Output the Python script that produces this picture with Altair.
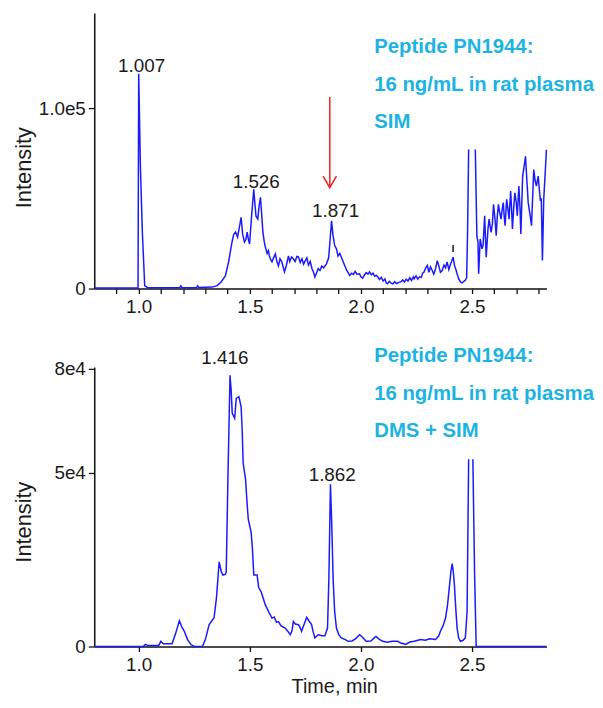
import altair as alt
import pandas as pd

# ---------------- data ----------------
# Top panel (SIM) chromatogram; None marks where the trace leaves the drawn area
top_time = [0.80, 0.90, 0.99, 0.997, 1.000, 1.0076, 1.0165, 1.027, 1.04, 1.15, 1.185, 1.19, 1.195,
            1.26, 1.265, 1.27, 1.33, 1.353, 1.37, 1.39, 1.405, 1.42, 1.428, 1.436, 1.445, 1.454,
            1.461, 1.468, 1.476, 1.482, 1.488, 1.494, 1.499, 1.508, 1.518, 1.523, 1.528, 1.536,
            1.542, 1.548, 1.553, 1.559, 1.565, 1.57, 1.578, 1.584, 1.588, 1.594, 1.6, 1.607, 1.615,
            1.622, 1.629, 1.636, 1.644, 1.65, 1.656, 1.664, 1.674, 1.68, 1.688, 1.696, 1.704, 1.712,
            1.719, 1.727, 1.735, 1.742, 1.75, 1.757, 1.764, 1.772, 1.78, 1.787, 1.793, 1.8, 1.808,
            1.816, 1.824, 1.832, 1.845, 1.855, 1.862, 1.868, 1.874, 1.882, 1.89, 1.897, 1.905,
            1.912, 1.92, 1.927, 1.935, 1.942, 1.95, 1.958, 1.966, 1.974, 1.982, 1.994, 2.0, 2.008,
            2.016, 2.024, 2.032, 2.039, 2.047, 2.055, 2.062, 2.07, 2.076, 2.084, 2.092, 2.1, 2.108,
            2.114, 2.12, 2.128, 2.136, 2.144, 2.152, 2.16, 2.168, 2.18, 2.188, 2.196, 2.204, 2.212,
            2.22, 2.228, 2.236, 2.24, 2.248, 2.256, 2.264, 2.272, 2.278, 2.284, 2.292, 2.299, 2.306,
            2.313, 2.321, 2.328, 2.336, 2.344, 2.352, 2.358, 2.366, 2.374, 2.381, 2.388, 2.396,
            2.402, 2.41, 2.415, 2.422, 2.428, 2.433, 2.44, 2.448, 2.455, 2.462, 2.47, 2.476, 2.48,
            2.485, None,
            2.515, 2.522, 2.527, 2.530, 2.537, 2.545, 2.550, 2.557, 2.564, 2.572, 2.577, 2.586,
            2.592, 2.597, 2.604, 2.609, 2.614, 2.619, 2.625, 2.631, 2.636, 2.641, 2.645, 2.649,
            2.656, 2.662, 2.667, 2.674, 2.678, 2.682, 2.688, 2.693, 2.699, 2.704, 2.711, 2.716,
            2.72, 2.728, 2.735, 2.741, 2.747, 2.753, 2.76, 2.768, 2.778, 2.784, 2.79, 2.798, 2.803,
            2.808, 2.812, 2.817, 2.823, 2.83, 2.835]
top_intensity = [300, 300, 300, 300, 119000, 67600, 31300, 1600, 500, 500, 600, 1500, 500,
                 500, 1500, 600, 800, 1600, 3500, 7000, 15000, 25800, 30000, 31300, 28500, 34600,
                 39500, 30000, 25800, 27000, 31300, 27000, 24700, 40000, 55000, 47000, 40100, 38500,
                 46000, 50500, 42000, 31300, 26000, 23000, 19500, 21000, 18100, 16000, 14800, 17000, 19200,
                 15000, 12600, 16500, 14800, 12000, 9300, 12500, 18100, 15000, 17500, 16500, 15000, 17800,
                 17600, 14500, 16500, 13500, 15500, 17000, 13000, 15000, 11000, 9000, 6400, 8500, 11000,
                 10000, 12500, 11500, 13700, 17000, 28000, 37500, 30000, 23800, 22000, 18000, 19500,
                 17400, 15000, 12800, 10500, 9000, 7300, 8500, 7800, 9500, 8000, 8200, 6500, 5800,
                 7500, 8800, 8000, 9200, 7600, 8500, 6800, 7300, 6400, 5000, 6200, 4200, 5300,
                 3200, 2700, 4000, 3000, 2600, 3800, 2800, 3300, 3700, 4800, 3600, 5200, 4200,
                 6000, 4500, 6500, 5500, 7000, 5200, 6500, 6200, 8500, 9200, 11500, 12800, 9000,
                 12000, 10000, 8000, 11000, 15500, 12000, 9000, 10000, 13000, 11500, 14700, 10500,
                 13000, 15500, 17400, 12500, 10500, 8200, 5500, 3700, 3200, 3800, 4600, 6000, 30000,
                 77000, None,
                 77000, 29300, 25800, 8200, 27500, 22000, 24000, 40300, 17400, 33000, 38500, 31100,
                 36000, 46700, 38000, 29300, 40000, 46700, 42000, 38500, 44000, 47600, 40000, 34800,
                 49500, 44000, 38500, 54000, 45000, 33000, 45000, 53100, 48000, 40300, 56800, 45000,
                 30200, 62300, 68000, 73300, 60000, 47600, 42000, 34800, 65900, 60000, 56800, 62300, 55000,
                 48500, 50000, 15600, 49500, 65000, 76900]

# Bottom panel (DMS + SIM) chromatogram
bot_time = [0.80, 1.02, 1.03, 1.04, 1.09, 1.10, 1.11, 1.15, 1.165, 1.183, 1.195, 1.205, 1.22, 1.235,
            1.25, 1.287, 1.30, 1.317, 1.33, 1.339, 1.35, 1.362, 1.372, 1.379, 1.39, 1.394, 1.402,
            1.411, 1.416, 1.421, 1.432, 1.439, 1.451, 1.461, 1.466, 1.47, 1.481, 1.487, 1.493,
            1.506, 1.512, 1.518, 1.533, 1.54, 1.551, 1.56, 1.57, 1.585, 1.60, 1.61, 1.62, 1.629,
            1.64, 1.659, 1.67, 1.682, 1.69, 1.696, 1.705, 1.719, 1.726, 1.733, 1.745, 1.756, 1.765,
            1.778, 1.786, 1.793, 1.808, 1.825, 1.838, 1.85, 1.856, 1.863, 1.869, 1.875, 1.882,
            1.89, 1.90, 1.912, 1.93, 1.942, 1.96, 1.975, 1.994, 2.005, 2.024, 2.045, 2.06, 2.068,
            2.08, 2.098, 2.12, 2.14, 2.165, 2.18, 2.202, 2.22, 2.24, 2.269, 2.29, 2.31, 2.336,
            2.35, 2.358, 2.37, 2.381, 2.39, 2.396, 2.405, 2.411, 2.416, 2.421, 2.427, 2.433, 2.44,
            2.448, 2.46, 2.47, 2.478, 2.485, None,
            2.504, 2.512, 2.519, 2.835]
bot_intensity = [0, 0, 600, 300, 300, 1500, 800, 800, 3500, 7400, 5500, 4400, 2000, 570,
                 0, 0, 2000, 6300, 7500, 8200, 14000, 24400, 21500, 20600, 20800, 21500, 50000,
                 78200, 74000, 67200, 65800, 71500, 72000, 69100, 62000, 52900, 48200, 42000, 36800,
                 32900, 28000, 20600, 20600, 17000, 15800, 14000, 12000, 10000, 8200, 8500, 7000, 7200,
                 6000, 5300, 4500, 3400, 4500, 7200, 6500, 6300, 5500, 4400, 6500, 8400, 7500,
                 6300, 4000, 2500, 3400, 3100, 3100, 5400, 20000, 46800, 35000, 19600, 10000,
                 5300, 3500, 2500, 2000, 1500, 1600, 2200, 3400, 2800, 1500, 1600, 2500, 2900,
                 2200, 1500, 1200, 1500, 1500, 1000, 600, 1300, 1500, 2000, 1800, 2200, 2000,
                 3000, 4400, 6000, 8200, 12000, 15800, 21500, 23900, 21500, 17700, 11000, 5300, 2500,
                 1500, 1800, 2500, 10000, 54000, None,
                 54000, 20000, 0, 0]

# Peak labels
top_peak_time = [1.013, 1.529, 1.886]
top_peak_int = [120000, 55900, 39400]
top_peak_text = ["1.007", "1.526", "1.871"]
bot_peak_time = [1.388, 1.871]
bot_peak_int = [81300, 47700]
bot_peak_text = ["1.416", "1.862"]

# Blue annotation texts
note_time = [2.06, 2.06, 2.06]
top_note_int = [130800, 109400, 89000]
top_note_text = ["Peptide PN1944:", "16 ng/mL in rat plasma", "SIM"]
bot_note_int = [82000, 71050, 60370]
bot_note_text = ["Peptide PN1944:", "16 ng/mL in rat plasma", "DMS + SIM"]

# Red arrow pointing at the 1.871 peak (shaft and head)
arrow_shaft_time = [1.860, 1.860]
arrow_shaft_int = [106200, 56500]
arrow_head_time = [1.830, 1.860, 1.890]
arrow_head_int = [62300, 55900, 62300]

# Small black marker above the 2.415 peak in the top trace
marker_time = [2.415]
marker_lo = [20300]
marker_hi = [24200]

# Axes
x_domain = [0.8, 2.835]
x_major = [1.0, 1.5, 2.0, 2.5]
x_top_ticks = [0.9, 1.0, 1.1, 1.2, 1.3, 1.4, 1.5, 1.6, 1.7, 1.8, 1.9, 2.0, 2.1, 2.2, 2.3, 2.4,
               2.5, 2.6, 2.7, 2.8]
top_y_domain = [0, 152750]
top_y_ticks = [0, 100000]
top_y_labels = ["0", "1.0e5"]
bot_y_domain = [0, 80600]
bot_y_ticks = [0, 50000, 80000]
bot_y_labels = ["0", "5e4", "8e4"]

# ---------------- build chart ----------------
FONT = "Liberation Sans"
LINE_BLUE = "#1a1aff"
NOTE_BLUE = "#1cb3e3"
TEXT = "#1a1a1a"
W = 456


def trace_df(ts, vs):
    rows, seg = [], 0
    for t, v in zip(ts, vs):
        if v is None:
            seg += 1
            continue
        rows.append({"t": t, "v": v, "seg": seg})
    return pd.DataFrame(rows)


def label_expr(vals, labels):
    expr = "''"
    for v, l in zip(vals, labels):
        expr = f"datum.value == {v} ? '{l}' : ({expr})"
    return expr


def x_label_expr(majors):
    expr = "''"
    for v in majors:
        expr = f"abs(datum.value - {v}) < 0.001 ? '{v:.1f}' : ({expr})"
    return expr


def panel(ts, vs, y_domain, y_ticks, y_labels, height, x_ticks, x_title,
          pk_t, pk_v, pk_txt, note_v, note_txt, title_y_shift):
    xs = alt.Scale(domain=x_domain, nice=False, zero=False)
    ys = alt.Scale(domain=y_domain, nice=False)
    x_axis_kwargs = dict(values=x_ticks, labelExpr=x_label_expr(x_major), labelOverlap=False,
                         labelFlush=False, labelBound=False, tickSize=5, labelPadding=4)
    if x_title:
        x_axis = alt.Axis(title=x_title, titleX=242, titleY=46.5, titleAlign="center",
                          titleBaseline="alphabetic", titleFontSize=20, **x_axis_kwargs)
    else:
        x_axis = alt.Axis(title=None, **x_axis_kwargs)
    y_axis = alt.Axis(title="Intensity", values=y_ticks, labelExpr=label_expr(y_ticks, y_labels),
                      tickSize=6, labelPadding=3, labelOverlap=False, labelFlush=False,
                      titleX=-64.5, titleY=height / 2 + title_y_shift, titleAngle=270,
                      titleAlign="center", titleBaseline="alphabetic", titleFontSize=22)
    X = alt.X("t:Q", scale=xs, axis=x_axis)
    Y = alt.Y("v:Q", scale=ys, axis=y_axis)

    line = alt.Chart(trace_df(ts, vs)).mark_line(color=LINE_BLUE, strokeWidth=1.5).encode(
        x=X, y=Y, detail="seg:N", order="t:Q",
    )
    peaks = alt.Chart(pd.DataFrame({"t": pk_t, "v": pk_v, "label": pk_txt})).mark_text(
        font=FONT, fontSize=19, color=TEXT, align="center", baseline="alphabetic"
    ).encode(x=X, y=Y, text="label:N")
    notes = alt.Chart(pd.DataFrame({"t": note_time, "v": note_v, "label": note_txt})).mark_text(
        font=FONT, fontSize=20.5, fontWeight="bold", color=NOTE_BLUE, align="left",
        baseline="alphabetic"
    ).encode(x=X, y=Y, text="label:N")
    return X, Y, line, peaks, notes


TX, TY, top_line, top_peaks, top_notes = panel(
    top_time, top_intensity, top_y_domain, top_y_ticks, top_y_labels, 278, x_top_ticks, None,
    top_peak_time, top_peak_int, top_peak_text, top_note_int, top_note_text, 16.5)

arrow_shaft = alt.Chart(pd.DataFrame({"t": arrow_shaft_time, "v": arrow_shaft_int})).mark_line(
    color="#ee2222", strokeWidth=1.5).encode(x=TX, y=TY)
arrow_head = alt.Chart(pd.DataFrame({"t": arrow_head_time, "v": arrow_head_int, "o": [0, 1, 2]})).mark_line(
    color="#ee2222", strokeWidth=1.5).encode(x=TX, y=TY, order="o:Q")
marker = alt.Chart(pd.DataFrame({"t": marker_time, "v": marker_lo, "hi": marker_hi})).mark_rule(
    color="#111111", strokeWidth=1.5).encode(x=TX, y=TY, y2="hi:Q")

top = alt.layer(top_line, marker, arrow_shaft, arrow_head, top_peaks, top_notes).properties(
    width=W, height=278)

BX, BY, bot_line, bot_peaks, bot_notes = panel(
    bot_time, bot_intensity, bot_y_domain, bot_y_ticks, bot_y_labels, 282, x_major, "Time, min",
    bot_peak_time, bot_peak_int, bot_peak_text, bot_note_int, bot_note_text, 15)

bottom = alt.layer(bot_line, bot_peaks, bot_notes).properties(width=W, height=282)

chart = alt.vconcat(top, bottom, spacing=79, bounds="flush").properties(
    padding={"left": 4, "top": 2, "right": 0, "bottom": 0}
).configure_view(stroke=None).configure_axis(
    grid=False,
    domainColor="#111111",
    domainWidth=1.5,
    tickColor="#111111",
    tickWidth=1.3,
    labelFont=FONT,
    labelFontSize=19,
    labelColor=TEXT,
    labelOverlap=False,
    titleFont=FONT,
    titleFontWeight="normal",
    titleColor=TEXT,
)

chart.save("out.html", embed_options={"renderer": "svg", "actions": False})
